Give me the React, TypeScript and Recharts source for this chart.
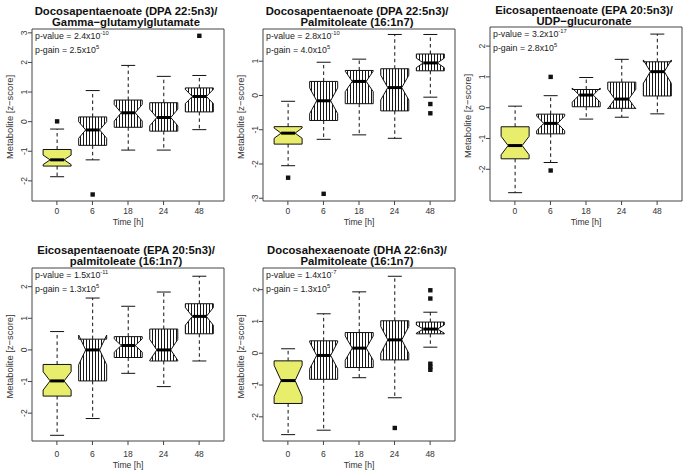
import React from 'react';
import { ComposedChart, Bar, XAxis, YAxis, ReferenceArea } from 'recharts';

// ---------- categories ----------
const TIME_LABELS = ['0', '6', '18', '24', '48'];
const POSITIONS = [1, 2, 3, 4, 5];

// ---------- Panel 1: DPA / Gamma-glutamylglutamate ----------
const P1_LOW = [-1.86, -1.29, -0.96, -0.96, -0.27];
const P1_Q1 = [-1.5, -0.8, -0.19, -0.32, 0.33];
const P1_NLO = [-1.45, -0.56, 0.02, -0.14, 0.61];
const P1_MED = [-1.29, -0.28, 0.3, 0.14, 0.85];
const P1_NHI = [-1.13, 0.0, 0.58, 0.42, 1.09];
const P1_Q3 = [-0.94, 0.16, 0.73, 0.64, 1.14];
const P1_HIGH = [-0.25, 1.05, 1.9, 1.53, 1.56];
const P1_OUT = [[0.01], [-2.46], [], [], [2.9]];
const P1_TICKS = [-2, -1, 0, 1, 2, 3];
const P1_DOMAIN = [-2.68, 3.13];

// ---------- Panel 2: DPA / Palmitoleate ----------
const P2_LOW = [-2.05, -1.28, -1.15, -1.25, -0.05];
const P2_Q1 = [-1.42, -0.73, -0.24, -0.45, 0.72];
const P2_NLO = [-1.25, -0.53, 0.11, -0.13, 0.81];
const P2_MED = [-1.1, -0.155, 0.41, 0.23, 0.95];
const P2_NHI = [-0.95, 0.22, 0.71, 0.59, 1.09];
const P2_Q3 = [-0.91, 0.41, 0.73, 0.78, 1.21];
const P2_HIGH = [-0.17, 0.97, 1.06, 1.78, 1.78];
const P2_OUT = [[-2.4], [-2.87], [], [], [-0.25, -0.52]];
const P2_TICKS = [-3, -2, -1, 0, 1];
const P2_DOMAIN = [-3.08, 1.94];

// ---------- Panel 3: EPA / UDP-glucuronate ----------
const P3_LOW = [-2.76, -1.78, -0.37, -0.31, -0.2];
const P3_Q1 = [-1.66, -0.85, 0.03, -0.02, 0.38];
const P3_NLO = [-1.53, -0.75, 0.18, -0.04, 0.79];
const P3_MED = [-1.23, -0.51, 0.41, 0.28, 1.17];
const P3_NHI = [-0.93, -0.27, 0.64, 0.6, 1.55];
const P3_Q3 = [-0.62, -0.21, 0.59, 0.83, 1.49];
const P3_HIGH = [0.05, 0.39, 0.98, 1.57, 2.39];
const P3_OUT = [[], [1.0, -2.04], [], [], []];
const P3_TICKS = [-2, -1, 0, 1, 2];
const P3_DOMAIN = [-3.03, 2.62];

// ---------- Panel 4: EPA / palmitoleate ----------
const P4_LOW = [-2.7, -2.17, -0.74, -1.16, -0.35];
const P4_Q1 = [-1.46, -0.98, -0.24, -0.35, 0.51];
const P4_NLO = [-1.27, -0.47, -0.07, -0.33, 0.78];
const P4_MED = [-0.98, 0.0, 0.14, 0.0, 1.06];
const P4_NHI = [-0.69, 0.47, 0.35, 0.33, 1.34];
const P4_Q3 = [-0.46, 0.34, 0.42, 0.66, 1.46];
const P4_HIGH = [0.58, 1.64, 1.38, 1.83, 2.33];
const P4_OUT = [[], [], [], [], []];
const P4_TICKS = [-2, -1, 0, 1, 2];
const P4_DOMAIN = [-2.88, 2.59];

// ---------- Panel 5: DHA / Palmitoleate ----------
const P5_LOW = [-2.56, -2.42, -0.77, -1.4, 0.19];
const P5_Q1 = [-1.58, -0.82, -0.45, -0.21, 0.61];
const P5_NLO = [-1.36, -0.49, -0.22, 0.0, 0.63];
const P5_MED = [-0.86, -0.07, 0.16, 0.42, 0.76];
const P5_NHI = [-0.38, 0.35, 0.54, 0.84, 0.89];
const P5_Q3 = [-0.24, 0.39, 0.65, 1.02, 0.98];
const P5_HIGH = [0.14, 1.24, 1.93, 2.42, 1.29];
const P5_OUT = [[], [], [], [-2.35], [1.98, 1.72, -0.33, -0.43, -0.52]];
const P5_TICKS = [-2, -1, 0, 1, 2];
const P5_DOMAIN = [-2.76, 2.68];

// ---------- texts ----------
const TITLES = [
  ['Docosapentaenoate (DPA 22:5n3)/', 'Gamma\u2212glutamylglutamate'],
  ['Docosapentaenoate (DPA 22:5n3)/', 'Palmitoleate (16:1n7)'],
  ['Eicosapentaenoate (EPA 20:5n3)/', 'UDP\u2212glucuronate'],
  ['Eicosapentaenoate (EPA 20:5n3)/', 'palmitoleate (16:1n7)'],
  ['Docosahexaenoate (DHA 22:6n3)/', 'Palmitoleate (16:1n7)'],
];
const P_VALUE_MANT = ['2.4', '2.8', '3.2', '1.5', '1.4'];
const P_VALUE_EXP = ['-10', '-10', '-17', '-11', '-7'];
const P_GAIN_MANT = ['2.5', '4.0', '2.8', '1.3', '1.3'];
const P_GAIN_EXP = ['5', '5', '5', '5', '5'];

const FONT = '"Liberation Sans", Arial, Helvetica, sans-serif';
const YELLOW = '#e8ee6c';
const INK = '#111';

type PanelData = {
  low: number[]; q1: number[]; nlo: number[]; med: number[]; nhi: number[];
  q3: number[]; high: number[]; out: number[][]; ticks: number[]; domain: number[];
};

const PANEL_DATA: PanelData[] = [
  { low: P1_LOW, q1: P1_Q1, nlo: P1_NLO, med: P1_MED, nhi: P1_NHI, q3: P1_Q3, high: P1_HIGH, out: P1_OUT, ticks: P1_TICKS, domain: P1_DOMAIN },
  { low: P2_LOW, q1: P2_Q1, nlo: P2_NLO, med: P2_MED, nhi: P2_NHI, q3: P2_Q3, high: P2_HIGH, out: P2_OUT, ticks: P2_TICKS, domain: P2_DOMAIN },
  { low: P3_LOW, q1: P3_Q1, nlo: P3_NLO, med: P3_MED, nhi: P3_NHI, q3: P3_Q3, high: P3_HIGH, out: P3_OUT, ticks: P3_TICKS, domain: P3_DOMAIN },
  { low: P4_LOW, q1: P4_Q1, nlo: P4_NLO, med: P4_MED, nhi: P4_NHI, q3: P4_Q3, high: P4_HIGH, out: P4_OUT, ticks: P4_TICKS, domain: P4_DOMAIN },
  { low: P5_LOW, q1: P5_Q1, nlo: P5_NLO, med: P5_MED, nhi: P5_NHI, q3: P5_Q3, high: P5_HIGH, out: P5_OUT, ticks: P5_TICKS, domain: P5_DOMAIN },
];

// layout (plot frames in page pixels)
const FRAMES = [
  { L: 32, T: 29, R: 224, B: 201, row: 0 },
  { L: 263, T: 29, R: 455, B: 201, row: 0 },
  { L: 490, T: 27, R: 682, B: 201, row: 0 },
  { L: 32, T: 268, R: 224, B: 441, row: 1 },
  { L: 263, T: 268, R: 455, B: 441, row: 1 },
];

const Y_AXIS_W = 40;
const X_AXIS_H = 32;
const PAD = 5;

function buildRows(p: PanelData) {
  return POSITIONS.map((pos, i) => {
    const all = [p.low[i], p.high[i], ...p.out[i]];
    return {
      pos,
      label: TIME_LABELS[i],
      range: [Math.min(...all), Math.max(...all)],
      low: p.low[i], q1: p.q1[i], nlo: p.nlo[i], med: p.med[i], nhi: p.nhi[i],
      q3: p.q3[i], high: p.high[i], out: p.out[i], first: i === 0,
    };
  });
}

const BoxShape = (props: any) => {
  const { x, y, width, height, payload } = props;
  if (!payload || width == null) return null;
  const [rmin, rmax] = payload.range;
  const top = Math.min(y, y + height);
  const h = Math.abs(height);
  const span = rmax - rmin;
  const py = (v: number) => top + h - ((v - rmin) / span) * h;
  const cx = x + width / 2;
  const hw = width / 2;
  const n = 0.5;
  const pts = [
    [cx - hw, py(payload.q1)],
    [cx - hw, py(payload.nlo)],
    [cx - hw * n, py(payload.med)],
    [cx - hw, py(payload.nhi)],
    [cx - hw, py(payload.q3)],
    [cx + hw, py(payload.q3)],
    [cx + hw, py(payload.nhi)],
    [cx + hw * n, py(payload.med)],
    [cx + hw, py(payload.nlo)],
    [cx + hw, py(payload.q1)],
  ];
  const poly = pts.map((p) => p.join(',')).join(' ');
  const capHalf = hw * 0.5;
  const sq = 4.4;
  return (
    <g>
      <line x1={cx} x2={cx} y1={py(payload.q3)} y2={py(payload.high)} stroke={INK} strokeWidth={1} strokeDasharray="3.5 3" />
      <line x1={cx} x2={cx} y1={py(payload.q1)} y2={py(payload.low)} stroke={INK} strokeWidth={1} strokeDasharray="3.5 3" />
      <line x1={cx - capHalf} x2={cx + capHalf} y1={py(payload.high)} y2={py(payload.high)} stroke={INK} strokeWidth={1} />
      <line x1={cx - capHalf} x2={cx + capHalf} y1={py(payload.low)} y2={py(payload.low)} stroke={INK} strokeWidth={1} />
      <polygon points={poly} fill={payload.first ? YELLOW : 'url(#vhatch)'} stroke={INK} strokeWidth={1} />
      <line x1={cx - hw * n} x2={cx + hw * n} y1={py(payload.med)} y2={py(payload.med)} stroke="#000" strokeWidth={3} />
      {payload.out.map((o: number, k: number) => (
        <rect key={k} x={cx - sq / 2} y={py(o) - sq / 2} width={sq} height={sq} fill="#111" />
      ))}
    </g>
  );
};

const RotTick = (props: any) => {
  const { x, y, payload } = props;
  const tx = x + 0.5;
  return (
    <text x={tx} y={y} transform={`rotate(-90 ${tx} ${y})`} textAnchor="middle" fontSize={8.5} fill="#333" fontFamily={FONT}>
      {String(payload.value)}
    </text>
  );
};

function Panel({ idx }: { idx: number }) {
  const p = PANEL_DATA[idx];
  const f = FRAMES[idx];
  const rows = buildRows(p);
  const plotW = f.R - f.L;
  const plotH = f.B - f.T;
  const w = Y_AXIS_W + plotW + PAD;
  const hgt = PAD + plotH + X_AXIS_H;
  return (
    <div style={{ position: 'absolute', left: f.L - Y_AXIS_W, top: f.T - PAD, width: w, height: hgt }}>
      <ComposedChart width={w} height={hgt} data={rows} margin={{ top: PAD, right: PAD, bottom: 0, left: 0 }}>
        <XAxis
          type="number"
          dataKey="pos"
          domain={[0.3, 5.7]}
          ticks={POSITIONS}
          interval={0}
          allowDataOverflow
          tickFormatter={(v: number) => TIME_LABELS[v - 1]}
          axisLine={false}
          tickLine={{ stroke: '#444' }}
          tickSize={4}
          tickMargin={f.row === 0 ? 3 : 6}
          height={X_AXIS_H}
          tick={{ fontSize: 8.5, fill: '#333', fontFamily: FONT }}
        />
        <YAxis
          type="number"
          domain={p.domain}
          ticks={p.ticks}
          interval={0}
          allowDataOverflow
          axisLine={false}
          tickLine={{ stroke: '#444' }}
          tickSize={4}
          tickMargin={1}
          width={Y_AXIS_W}
          tick={<RotTick />}
        />
        <ReferenceArea
          x1={0.3}
          x2={5.7}
          y1={p.domain[0]}
          y2={p.domain[1]}
          fill="none"
          fillOpacity={0}
          stroke="#444"
          strokeWidth={1}
          ifOverflow="visible"
        />
        <Bar dataKey="range" barSize={28} isAnimationActive={false} shape={(sp: any) => <BoxShape {...sp} />} />
      </ComposedChart>
    </div>
  );
}

function Overlay() {
  return (
    <svg width={685} height={472} style={{ position: 'absolute', left: 0, top: 0, pointerEvents: 'none' }}>
      {FRAMES.map((f, i) => {
        const cxm = (f.L + f.R) / 2;
        const cym = (f.T + f.B) / 2;
        const t1 = f.row === 0 ? (i === 2 ? 13.5 : 15) : 253.5;
        const t2 = f.row === 0 ? (i === 2 ? 24.8 : 26.3) : 264.8;
        const xt = f.row === 0 ? f.B + 23.5 : f.B + 26.5;
        const yx = f.L - 19.5;
        const yy = cym + 2;
        return (
          <g key={i} fontFamily={FONT}>
            <text x={cxm - 2} y={t1} textAnchor="middle" fontSize={11.3} fontWeight="bold" fill="#111">{TITLES[i][0]}</text>
            <text x={cxm - 2} y={t2} textAnchor="middle" fontSize={11.3} fontWeight="bold" fill="#111">{TITLES[i][1]}</text>
            <text x={f.L + 3} y={f.T + 10} fontSize={8.8} fill="#222">
              {`p-value = ${P_VALUE_MANT[i]}x10`}
              <tspan fontSize={5.8} dy={-3.6}>{P_VALUE_EXP[i]}</tspan>
            </text>
            <text x={f.L + 3} y={f.T + 23.5} fontSize={8.8} fill="#222">
              {`p-gain = ${P_GAIN_MANT[i]}x10`}
              <tspan fontSize={5.8} dy={-3.6}>{P_GAIN_EXP[i]}</tspan>
            </text>
            <text x={cxm} y={xt} textAnchor="middle" fontSize={8.6} fill="#333">Time [h]</text>
            <text x={yx} y={yy} transform={`rotate(-90 ${yx} ${yy})`} textAnchor="middle" fontSize={9.4} fill="#333">
              Metabolite [z{'\u2212'}score]
            </text>
          </g>
        );
      })}
    </svg>
  );
}

export default function App() {
  return (
    <div style={{ position: 'absolute', left: 0, top: 0, width: 685, height: 472, background: '#fff', overflow: 'hidden' }}>
      <svg width={0} height={0} style={{ position: 'absolute', left: 0, top: 0 }}>
        <defs>
          <pattern id="vhatch" patternUnits="userSpaceOnUse" x={0} y={0} width={3} height={12}>
            <rect x={0} y={0} width={3} height={12} fill="#fff" />
            <line x1={1.5} y1={0} x2={1.5} y2={12} stroke="#151515" strokeWidth={1} />
          </pattern>
        </defs>
      </svg>
      {FRAMES.map((_, i) => (
        <Panel key={i} idx={i} />
      ))}
      <Overlay />
    </div>
  );
}
